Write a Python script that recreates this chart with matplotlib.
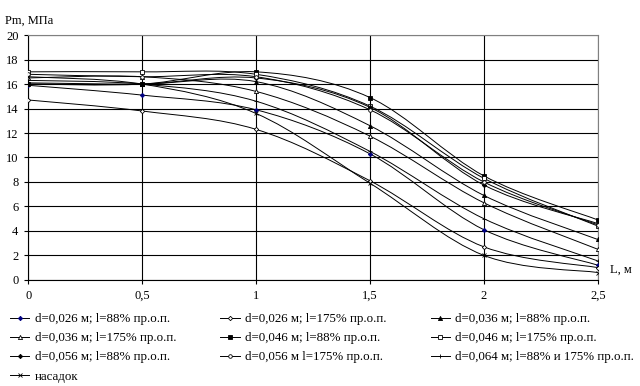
import matplotlib.pyplot as plt
import numpy as np
from matplotlib.path import Path
from matplotlib.patches import PathPatch
from matplotlib.lines import Line2D

plt.rcParams['font.family'] = ['Liberation Serif', 'DejaVu Serif']

L = [0, 0.5, 1, 1.5, 2, 2.5]
xticklabels = ['0', '0,5', '1', '1,5', '2', '2,5']

labels = [
    'd=0,026 м; l=88% пр.о.п.',
    'd=0,026 м; l=175% пр.о.п.',
    'd=0,036 м; l=88% пр.о.п.',
    'd=0,036 м; l=175% пр.о.п.',
    'd=0,046 м; l=88% пр.о.п.',
    'd=0,046 м; l=175% пр.о.п.',
    'd=0,056 м; l=88% пр.о.п.',
    'd=0,056 м l=175% пр.о.п.',
    'd=0,064 м; l=88% и 175% пр.о.п.',
    'насадок',
]
d026_88 = [15.9, 15.1, 13.9, 10.3, 4.1, 1.2]
d026_175 = [14.7, 13.8, 12.3, 8.1, 2.7, 1.0]
d036_88 = [16.1, 16.0, 16.2, 12.6, 6.9, 3.3]
d036_175 = [16.5, 16.6, 15.4, 11.75, 6.3, 2.5]
d046_88 = [16.0, 16.0, 17.0, 14.9, 8.5, 4.9]
d046_175 = [17.0, 17.0, 16.8, 14.2, 8.3, 4.4]
d056_88 = [16.0, 16.0, 16.5, 14.1, 7.75, 4.6]
d056_175 = [16.8, 16.6, 16.6, 13.9, 8.0, 4.5]
d064 = [16.3, 16.0, 14.6, 10.5, 5.0, 1.55]
nasadok = [16.6, 16.0, 13.6, 7.9, 2.0, 0.6]
series = [d026_88, d026_175, d036_88, d036_175, d046_88,
          d046_175, d056_88, d056_175, d064, nasadok]

# marker, face colour, size
styles = [
    ('D', '#000080', 2.2),
    ('D', 'white', 2.2),
    ('^', 'black', 3),
    ('^', 'white', 3),
    ('s', 'black', 2.8),
    ('s', 'white', 2.8),
    ('D', 'black', 2.2),
    ('o', 'white', 2.6),
    ('+', 'black', 2.6),
    ('x', 'black', 2.4),
]


def smooth_path(x, y):
    # Catmull-Rom -> cubic Bezier, like Excel's smoothed line
    x = np.asarray(x, float)
    y = np.asarray(y, float)
    pts = np.column_stack([x, y])
    verts = [pts[0]]
    codes = [Path.MOVETO]
    n = len(pts)
    for i in range(n - 1):
        p0 = pts[i - 1] if i > 0 else pts[i]
        p1 = pts[i]
        p2 = pts[i + 1]
        p3 = pts[i + 2] if i + 2 < n else pts[i + 1]
        c1 = p1 + (p2 - p0) / 6.0
        c2 = p2 - (p3 - p1) / 6.0
        verts += [c1, c2, p2]
        codes += [Path.CURVE4] * 3
    return Path(verts, codes)


def edge(fc):
    return '#000080' if fc == '#000080' else 'black'


fig = plt.figure(figsize=(6.4, 3.86), dpi=100)
ax = fig.add_axes([0.044, 0.275, 0.890, 0.634])

for vals, (m, fc, ms) in zip(series, styles):
    ax.add_patch(PathPatch(smooth_path(L, vals), fill=False,
                           edgecolor='black', lw=0.7, zorder=3))
    ax.plot(L, vals, linestyle='none', marker=m, markersize=ms,
            markerfacecolor=fc, markeredgecolor=edge(fc),
            markeredgewidth=0.6, zorder=4)

ax.set_xlim(0, 2.5)
ax.set_ylim(0, 20)
ax.set_xticks(L)
ax.set_xticklabels(xticklabels)
ax.set_yticks(range(0, 21, 2))
ax.grid(True, color='black', lw=0.8)
ax.set_axisbelow(True)
ax.tick_params(labelsize=9, length=3, width=0.8, color='black', pad=4)
for s in ['top', 'right']:
    ax.spines[s].set_color('#808080')
for s in ['left', 'bottom']:
    ax.spines[s].set_color('black')
    ax.spines[s].set_linewidth(0.8)

fig.text(0.008, 0.945, 'Pm, МПа', fontsize=9, ha='left', va='center')
fig.text(0.953, 0.3, 'L, м', fontsize=9, ha='left', va='center')

handles = [Line2D([], [], color='black', lw=0.7, marker=m, markersize=ms,
                  markerfacecolor=fc, markeredgecolor=edge(fc),
                  markeredgewidth=0.6)
           for (m, fc, ms) in styles]

# one legend per column, entries go row by row as in the reference
col_x = [0.0156, 0.344, 0.673]
for c, x0 in enumerate(col_x):
    idx = list(range(c, len(labels), 3))
    fig.legend([handles[i] for i in idx], [labels[i] for i in idx],
               loc='upper left', bbox_to_anchor=(x0, 0.189),
               frameon=False, fontsize=9.3, handlelength=1.5,
               handletextpad=0.4, labelspacing=0.55,
               borderpad=0, borderaxespad=0)

fig.savefig('out.png', dpi=100)
